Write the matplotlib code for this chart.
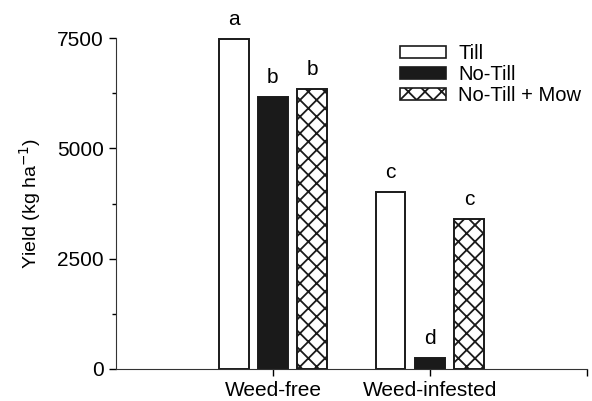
import matplotlib.pyplot as plt
from matplotlib.patches import Patch
from matplotlib.ticker import MultipleLocator

plt.rcParams['font.family'] = ['Liberation Sans', 'DejaVu Sans']
plt.rcParams['hatch.linewidth'] = 1.3

groups = ['Weed-free', 'Weed-infested']
treatments = ['Till', 'No-Till', 'No-Till + Mow']
till = [7480, 4010]
notill = [6170, 240]
mow = [6340, 3400]
letters = [['a', 'c'], ['b', 'd'], ['b', 'c']]

fig = plt.figure(figsize=(5.92, 4.01), dpi=100)
ax = fig.add_axes([0.196, 0.08, 0.795, 0.825])

pos = [1, 2]
offsets = [-0.25, 0, 0.25]
styles = [dict(color='white', hatch=None), dict(color='#1a1a1a', hatch=None),
          dict(color='white', hatch='xx')]
for vals, off, st, lab in zip([till, notill, mow], offsets, styles, letters):
    xs = [p + off for p in pos]
    ax.bar(xs, vals, width=0.19, color=st['color'], edgecolor='#1a1a1a',
           hatch=st['hatch'], linewidth=1.4)
    for x, v, t in zip(xs, vals, lab):
        ax.text(x, v + 230, t, ha='center', va='bottom', fontsize=15)

ax.set_xlim(0, 3)
ax.set_ylim(0, 7500)
ax.set_xticks([1, 2, 3])
ax.set_xticklabels(groups + [''], fontsize=15)
ax.set_yticks([0, 2500, 5000, 7500])
ax.yaxis.set_minor_locator(MultipleLocator(1250))
ax.tick_params(axis='y', labelsize=15, length=5, width=1, pad=4)
ax.tick_params(axis='y', which='minor', length=3, width=1)
ax.tick_params(axis='x', length=5, width=1, pad=4)
ax.set_ylabel('Yield (kg ha$^{-1}$)', fontsize=14, labelpad=10)
ax.spines['top'].set_visible(False)
ax.spines['right'].set_visible(False)
ax.spines['left'].set_color('#333333')
ax.spines['bottom'].set_color('#333333')

handles = [Patch(facecolor='white', edgecolor='#1a1a1a', linewidth=1.2),
           Patch(facecolor='#1a1a1a', edgecolor='#1a1a1a', linewidth=1.2),
           Patch(facecolor='white', edgecolor='#1a1a1a', hatch='xx', linewidth=1.2)]
fig.legend(handles, treatments, loc='upper left',
           bbox_to_anchor=(400 / 592, 1 - 44 / 401),
           frameon=False, fontsize=14.5, handlelength=2.3, handleheight=0.5,
           labelspacing=0.1, handletextpad=0.6, borderpad=0, borderaxespad=0)

fig.savefig('out.png', dpi=100)
